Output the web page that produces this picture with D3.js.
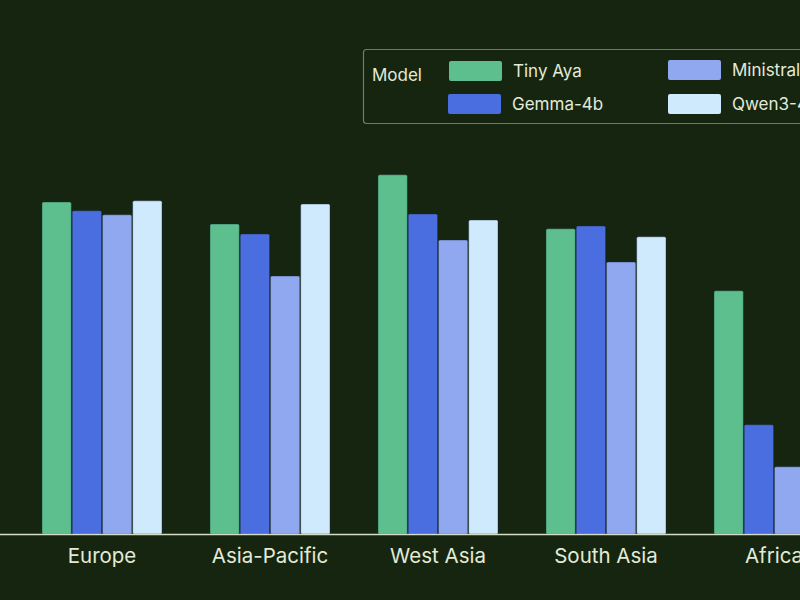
<!DOCTYPE html>
<html>
<head>
<meta charset="utf-8">
<script src="https://cdn.jsdelivr.net/npm/d3@7"></script>
<style>
  html, body { margin: 0; padding: 0; background: #16250f; overflow: hidden; }
  svg { display: block; }
  text { font-family: Inter, "Noto Sans", sans-serif; fill: #e3ead8; }
</style>
</head>
<body>
<svg id="chart" width="800" height="600"></svg>
<script>
const regions = ["Europe", "Asia-Pacific", "West Asia", "South Asia", "Africa"];
const models = ["Tiny Aya", "Gemma-4b", "Ministral-3b", "Qwen3-4b"];
const tinyAya   = [83.0, 77.5, 89.8, 76.3, 60.8];
const gemma     = [80.8, 75.0, 80.0, 77.0, 27.3];
const ministral = [79.8, 64.5, 73.5, 68.0, 16.8];
const qwen      = [83.3, 82.5, 78.5, 74.3, 40.0];
const colors = ["#5dbf8e", "#4a6ee0", "#8fa8f0", "#cfe9fd"];

const seriesValues = [tinyAya, gemma, ministral, qwen];
const data = regions.map((r, i) => ({
  region: r,
  values: models.map((m, j) => ({ model: m, value: seriesValues[j][i] }))
}));

const svg = d3.select("#chart");
svg.append("rect").attr("width", 800).attr("height", 600).attr("fill", "#16250f");

const baseY = 534;
const y = d3.scaleLinear().domain([0, 100]).range([baseY, 134]);
const x0 = d3.scaleBand().domain(regions).range([0, 876]).paddingInner(48 / 168).paddingOuter(0.25);
const x1 = d3.scaleBand().domain(models).range([0, x0.bandwidth()]).paddingInner(0.03);
const color = d3.scaleOrdinal().domain(models).range(colors);

const groups = svg.append("g").selectAll("g").data(data).join("g")
  .attr("transform", d => `translate(${x0(d.region)},0)`);

groups.selectAll("rect").data(d => d.values).join("rect")
  .attr("x", d => x1(d.model))
  .attr("y", d => y(d.value))
  .attr("width", x1.bandwidth())
  .attr("height", d => baseY - y(d.value))
  .attr("rx", 1.5)
  .attr("fill", d => color(d.model))
  .attr("stroke", "#1a2a40")
  .attr("stroke-opacity", 0.5)
  .attr("stroke-width", 0.8);

const xAxis = d3.axisBottom(x0).tickSize(0).tickPadding(14);
const gx = svg.append("g").attr("transform", `translate(0,${baseY})`).call(xAxis);
gx.select(".domain").remove();
gx.selectAll("text").style("font-size", "20.5px").attr("fill", "#e3ead8")
  .style("font-family", "Inter, 'Noto Sans', sans-serif");
svg.append("line").attr("x1", 0).attr("x2", 800).attr("y1", baseY + 0.5).attr("y2", baseY + 0.5)
  .attr("stroke", "#d4dcc8").attr("stroke-width", 1.5);

// Legend
const lg = svg.append("g");
lg.append("rect").attr("x", 363.5).attr("y", 49.5).attr("width", 460).attr("height", 74)
  .attr("rx", 3).attr("fill", "none").attr("stroke", "#6d7c62").attr("stroke-width", 1.2);
lg.append("text").attr("x", 372).attr("y", 81).style("font-size", "17px").text("Model");
const legPos = [[449, 61], [448, 94], [668, 60], [668, 94]];
models.forEach((m, i) => {
  const [lx, ly] = legPos[i];
  lg.append("rect").attr("x", lx).attr("y", ly).attr("width", 53).attr("height", 20)
    .attr("rx", 2).attr("fill", color(m));
  lg.append("text").attr("x", lx + 64).attr("y", ly + 16).style("font-size", "17px").text(m);
});
</script>
</body>
</html>
